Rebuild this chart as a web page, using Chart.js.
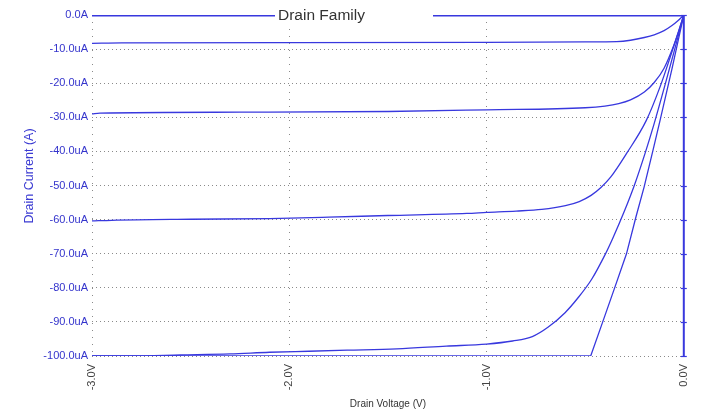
<!DOCTYPE html>
<html>
<head>
<meta charset="utf-8">
<script src="https://cdn.jsdelivr.net/npm/chart.js@4/dist/chart.umd.min.js"></script>
<style>
  html, body { margin: 0; padding: 0; background: #fff; }
  #wrap { width: 705px; height: 414px; position: relative; }
</style>
</head>
<body>
<div id="wrap"><canvas id="c" width="705" height="414"></canvas></div>
<script>
// Texts
const chartTitle = 'Drain Family';
const xTitle = 'Drain Voltage (V)';
const yTitle = 'Drain Current (A)';

// Axis ticks
const xTickValues = [-3, -2, -1, 0];          // V
const yTickValues = [0, -10, -20, -30, -40, -50, -60, -70, -80, -90, -100]; // uA

// One sweep per gate step: drain voltage (V) and drain current (uA)
const step0V = [-3.0, 0.0];
const step0I = [0, 0];

const step1V = [-3.0, -2.85, -2.0, -1.0, -0.5, -0.34, -0.27, -0.2, -0.15, -0.1, -0.06, -0.03, 0];
const step1I = [-8.3, -8.15, -8.1, -8.0, -7.9, -7.8, -7.4, -6.6, -5.8, -4.6, -3.1, -1.7, 0];

const step2V = [-3.0, -2.96, -2.25, -1.5, -1.0, -0.5, -0.4, -0.33, -0.27, -0.2, -0.15, -0.1, -0.05, -0.025, 0];
const step2I = [-29.0, -28.8, -28.5, -28.3, -27.8, -27.2, -26.7, -26.0, -24.9, -22.6, -19.8, -15.6, -8.8, -4.6, 0];

const step3V = [-3.0, -2.9, -2.5, -2.1, -1.8, -1.5, -1.1, -1.0, -0.85, -0.72, -0.6, -0.53, -0.47, -0.42, -0.37, -0.29, -0.19, -0.12, -0.06, 0];
const step3I = [-60.4, -60.2, -59.9, -59.7, -59.3, -58.8, -58.2, -57.9, -57.5, -57.0, -55.9, -54.7, -52.9, -50.6, -47.5, -40.6, -30.9, -21.0, -10.8, 0];

const step4V = [-3.0, -2.8, -2.55, -2.3, -2.1, -1.9, -1.706, -1.455, -1.204, -1.0, -0.868, -0.768, -0.687, -0.602, -0.537, -0.467, -0.401, -0.361, -0.301, -0.251, -0.196, -0.151, -0.1, -0.05, 0];
const step4I = [-100, -100, -99.7, -99.4, -98.9, -98.6, -98.3, -97.9, -97.1, -96.5, -95.6, -94.3, -91.5, -87.3, -83.0, -77.5, -70.5, -65.6, -57.5, -50.0, -40.5, -32.0, -21.5, -10.9, 0];

const step5V = [-3.0, -0.472, -0.411, -0.351, -0.291, -0.242, -0.201, -0.156, -0.12, -0.06, 0];
const step5I = [-100, -100, -90.0, -80.1, -70.1, -59.1, -50.4, -39.6, -30.8, -15.8, 0];

const LINE = '#3838de';
const FONT = "'Liberation Sans', Arial, sans-serif";

function pts(vs, is) { return vs.map((v, k) => ({ x: v, y: is[k] })); }

// [voltages, currents, line width, smooth]
const sweeps = [
  [step0V, step0I, 3, false],
  [step1V, step1I, 1.3, true],
  [step2V, step2I, 1.3, true],
  [step3V, step3I, 1.3, true],
  [step4V, step4I, 1.3, true],
  [step5V, step5I, 1.3, false]
];

const datasets = sweeps.map(([v, i, w, smooth]) => ({
  data: pts(v, i),
  borderColor: LINE,
  borderWidth: w,
  pointRadius: 0,
  tension: 0,
  cubicInterpolationMode: smooth ? 'monotone' : 'default',
  fill: false
}));

// Title box, zero-volt axis line and axis captions
const decor = {
  id: 'decor',
  afterDatasetsDraw(chart) {
    const { ctx, chartArea, scales } = chart;
    const x0 = scales.x.getPixelForValue(0);
    ctx.save();
    // vertical axis line at 0 V with small ticks
    ctx.strokeStyle = LINE;
    ctx.lineWidth = 2;
    ctx.beginPath();
    ctx.moveTo(x0, chartArea.top);
    ctx.lineTo(x0, chartArea.bottom);
    ctx.stroke();
    ctx.lineWidth = 1.2;
    yTickValues.forEach(v => {
      const y = Math.round(scales.y.getPixelForValue(v)) + 0.5;
      ctx.beginPath();
      ctx.moveTo(x0 - 3, y);
      ctx.lineTo(x0 + 3, y);
      ctx.stroke();
    });
    // title with white background
    ctx.fillStyle = '#fff';
    ctx.fillRect(275, 4, 158, 22);
    ctx.fillStyle = '#333';
    ctx.font = '15.5px ' + FONT;
    ctx.textAlign = 'left';
    ctx.textBaseline = 'middle';
    ctx.fillText(chartTitle, 278, 16);
    // y-axis caption
    ctx.translate(30, 176);
    ctx.rotate(-Math.PI / 2);
    ctx.fillStyle = '#3a3ad2';
    ctx.font = '12.5px ' + FONT;
    ctx.textAlign = 'center';
    ctx.textBaseline = 'middle';
    ctx.fillText(yTitle, 0, 0);
    ctx.restore();
    // x-axis caption
    ctx.save();
    ctx.fillStyle = '#333';
    ctx.font = '10px ' + FONT;
    ctx.textAlign = 'center';
    ctx.textBaseline = 'middle';
    ctx.fillText(xTitle, (chartArea.left + chartArea.right) / 2, 404);
    ctx.restore();
  }
};

new Chart(document.getElementById('c'), {
  type: 'line',
  data: { datasets },
  options: {
    responsive: false,
    animation: false,
    devicePixelRatio: 1,
    layout: { padding: { top: 15, right: 15, left: 0, bottom: 0 } },
    plugins: { legend: { display: false }, tooltip: { enabled: false }, title: { display: false } },
    scales: {
      x: {
        type: 'linear',
        min: -3, max: 0,
        afterBuildTicks: s => { s.ticks = xTickValues.map(v => ({ value: v })); },
        afterFit: s => { s.height = 58; },
        grid: { color: '#8a8a8a', lineWidth: 1, drawTicks: false },
        border: { display: false, dash: [1, 6] },
        ticks: {
          minRotation: 90, maxRotation: 90, padding: 8,
          color: '#444', font: { size: 11, family: FONT },
          callback: v => v.toFixed(1) + 'V'
        }
      },
      y: {
        type: 'linear',
        min: -100, max: 0,
        afterBuildTicks: s => { s.ticks = yTickValues.map(v => ({ value: v })); },
        afterFit: s => { s.width = 92; },
        grid: { color: '#8a8a8a', lineWidth: 1, drawTicks: false },
        border: { display: false, dash: [1, 3] },
        ticks: {
          padding: 4,
          color: '#3434cc', font: { size: 11, family: FONT },
          callback: v => v === 0 ? '0.0A' : v.toFixed(1) + 'uA'
        }
      }
    }
  },
  plugins: [decor]
});
</script>
</body>
</html>
